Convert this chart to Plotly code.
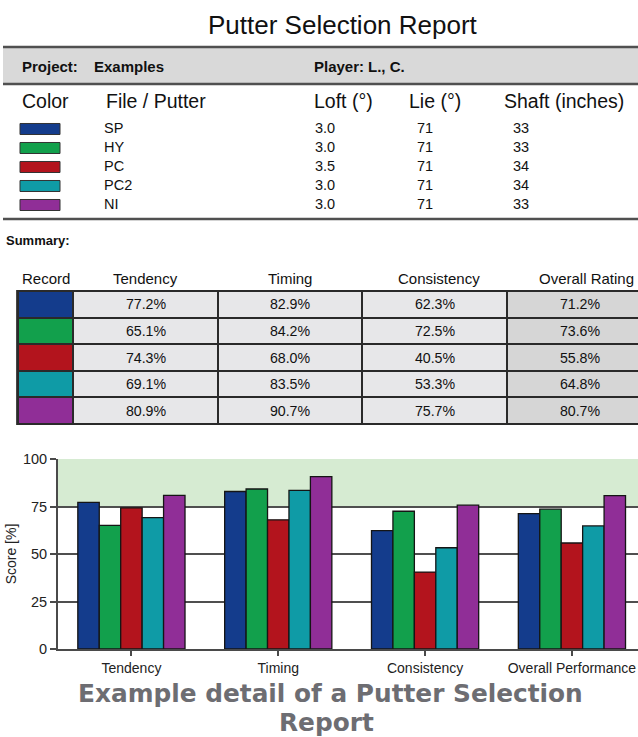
import plotly.graph_objects as go

W, H = 638, 737
FONT = "Liberation Sans, Arial, sans-serif"

# ---------------- data ----------------
series = ["SP", "HY", "PC", "PC2", "NI"]
colors = ["#143c8c", "#12a04c", "#b3141d", "#0f9ba6", "#902e97"]
loft = [3.0, 3.0, 3.5, 3.0, 3.0]
lie = [71, 71, 71, 71, 71]
shaft = [33, 33, 34, 34, 33]

categories = ["Tendency", "Timing", "Consistency", "Overall Performance"]
table_headers = ["Record", "Tendency", "Timing", "Consistency", "Overall Rating"]
tendency = [77.2, 65.1, 74.3, 69.1, 80.9]
timing = [82.9, 84.2, 68.0, 83.5, 90.7]
consistency = [62.3, 72.5, 40.5, 53.3, 75.7]
overall = [71.2, 73.6, 55.8, 64.8, 80.7]
y_ticks = [0, 25, 50, 75, 100]


def px(x):
    return x / W


def py(y):
    return 1 - y / H


fig = go.Figure()

# ---------------- bar chart ----------------
for i, name in enumerate(series):
    fig.add_trace(go.Bar(
        x=categories,
        y=[tendency[i], timing[i], consistency[i], overall[i]],
        name=name,
        marker=dict(color=colors[i], line=dict(color="#151515", width=1.3)),
        showlegend=False, hoverinfo="skip",
        xaxis="x", yaxis="y",
    ))

# ---------------- putter list (swatches + text) ----------------
rows = list(range(len(series)))
fig.add_trace(go.Bar(
    y=rows, x=[40] * len(series), base=20, orientation="h", width=0.58,
    marker=dict(color=colors, line=dict(color="#333333", width=1)),
    showlegend=False, hoverinfo="skip", xaxis="x2", yaxis="y2",
))
text_cols = [
    (104, series),
    (315, [f"{v:.1f}" for v in loft]),
    (417, [str(v) for v in lie]),
    (513, [str(v) for v in shaft]),
]
for xpos, vals in text_cols:
    fig.add_trace(go.Scatter(
        x=[xpos] * len(vals), y=rows, text=vals, mode="text",
        textposition="middle right",
        textfont=dict(family=FONT, size=14.5, color="#111111"),
        showlegend=False, hoverinfo="skip", xaxis="x2", yaxis="y2",
    ))

# ---------------- summary table as heatmap ----------------
col_widths = [55, 145, 144, 145, 145]
edges = [0]
for w_ in col_widths:
    edges.append(edges[-1] + w_)
cell_colors = colors + ["#e7e7e9", "#d6d6d6"]
n = len(cell_colors)
cscale = [[k / (n - 1), c] for k, c in enumerate(cell_colors)]
z, txt = [], []
for i in range(len(series)):
    z.append([i, 5, 5, 5, 6])
    txt.append(["", f"{tendency[i]:.1f}%", f"{timing[i]:.1f}%",
                f"{consistency[i]:.1f}%", f"{overall[i]:.1f}%"])
fig.add_trace(go.Heatmap(
    z=z, x=edges, y=rows, text=txt, texttemplate="%{text}",
    textfont=dict(family=FONT, size=14.2, color="#111111"),
    colorscale=cscale, zmin=0, zmax=n - 1, showscale=False,
    xgap=2, ygap=2, hoverinfo="skip", xaxis="x3", yaxis="y3",
))

# ---------------- layout ----------------
shapes = [
    # summary table border/background
    dict(type="rect", xref="x3 domain", yref="y3 domain", x0=-0.003, x1=1,
         y0=-0.008, y1=1.008, fillcolor="#2a2a2a", line=dict(width=0), layer="below"),
    # green target band
    dict(type="rect", xref="x domain", yref="y", x0=0, x1=1, y0=75, y1=100,
         fillcolor="#d6ebd2", line=dict(width=0), layer="below"),
    # header band
    dict(type="rect", xref="paper", yref="paper", x0=px(3), x1=1, y0=py(84), y1=py(47),
         fillcolor="#d9d9d9", line=dict(width=0), layer="below"),
    dict(type="line", xref="paper", yref="paper", x0=px(3), x1=1, y0=py(47), y1=py(47),
         line=dict(color="#505050", width=2.5)),
    dict(type="line", xref="paper", yref="paper", x0=px(3), x1=1, y0=py(84), y1=py(84),
         line=dict(color="#505050", width=2.5)),
    dict(type="line", xref="paper", yref="paper", x0=px(3), x1=1, y0=py(219), y1=py(219),
         line=dict(color="#505050", width=2.5)),
]

ann = []


def add_text(text, x, y, size, anchor="left", color="#111111", family=FONT, pad=1):
    ann.append(dict(text=text, x=px(x), y=py(y), xref="paper", yref="paper",
                    xanchor=anchor, yanchor="middle", showarrow=False, borderpad=pad,
                    font=dict(family=family, size=size, color=color)))


add_text("Putter Selection Report", 343, 25, 26, "center")
add_text("<b>Project:</b>", 20, 66, 15)
add_text("<b>Examples</b>", 92, 66, 15)
add_text("<b>Player:</b>", 312, 66, 15)
add_text("<b>L., C.</b>", 366, 66, 15)
for label, xx in [("Color", 20), ("File / Putter", 104), ("Loft (°)", 312),
                  ("Lie (°)", 407), ("Shaft (inches)", 502)]:
    add_text(label, xx, 101, 19.5)
add_text("<b>Summary:</b>", 4, 240, 13)
header_shift = [0, 0, 0, 4, 7]
for k, h in enumerate(table_headers):
    cx = 18 + (edges[k] + edges[k + 1]) / 2 + header_shift[k]
    add_text(h, cx, 278, 15, "center")
add_text("<b>Example detail of a Putter Selection</b>", 330, 693, 24.8,
         "center", color="#6d6d72", family="DejaVu Sans", pad=0)
add_text("<b>Report</b>", 326, 722, 24.8,
         "center", color="#6d6d72", family="DejaVu Sans", pad=0)

fig.update_layout(
    width=W, height=H, template="none",
    margin=dict(l=0, r=0, t=0, b=0),
    paper_bgcolor="white", plot_bgcolor="rgba(0,0,0,0)",
    barmode="group", bargap=0.27, bargroupgap=0,
    font=dict(family=FONT, color="#222222"),
    shapes=shapes, annotations=ann,
    xaxis=dict(domain=[px(58), 1], range=[-0.5, 3.45], type="category",
               showline=True, linecolor="#4a4a4a", linewidth=2,
               ticks="outside", ticklen=5, tickcolor="#4a4a4a", tickwidth=1.5,
               showgrid=False, zeroline=False, automargin=False,
               tickfont=dict(size=14, color="#222222"), anchor="y"),
    yaxis=dict(domain=[py(649), py(459)], range=[0, 100], tickvals=y_ticks,
               showline=True, linecolor="#4a4a4a", linewidth=2,
               ticks="outside", ticklen=6, tickcolor="#4a4a4a", tickwidth=1.5,
               showgrid=True, gridcolor="#4f4f4f", gridwidth=1.5,
               zeroline=False, automargin=False,
               tickfont=dict(size=14.5, color="#222222"),
               title=dict(text="Score [%]", font=dict(size=14, color="#222222"), standoff=3),
               anchor="x"),
    xaxis2=dict(domain=[0, 1], range=[0, W], visible=False, anchor="y2", fixedrange=True),
    yaxis2=dict(domain=[py(214.5), py(119.5)], range=[4.5, -0.5], visible=False,
                anchor="x2", fixedrange=True),
    xaxis3=dict(domain=[px(18), 1], range=[0, W - 18], visible=False, anchor="y3"),
    yaxis3=dict(domain=[py(424), py(291)], range=[4.5, -0.5], visible=False, anchor="x3"),
)

fig.write_html("out.html", config={"displayModeBar": False},
               post_script="document.body.style.margin='0';document.body.style.overflow='hidden';")
